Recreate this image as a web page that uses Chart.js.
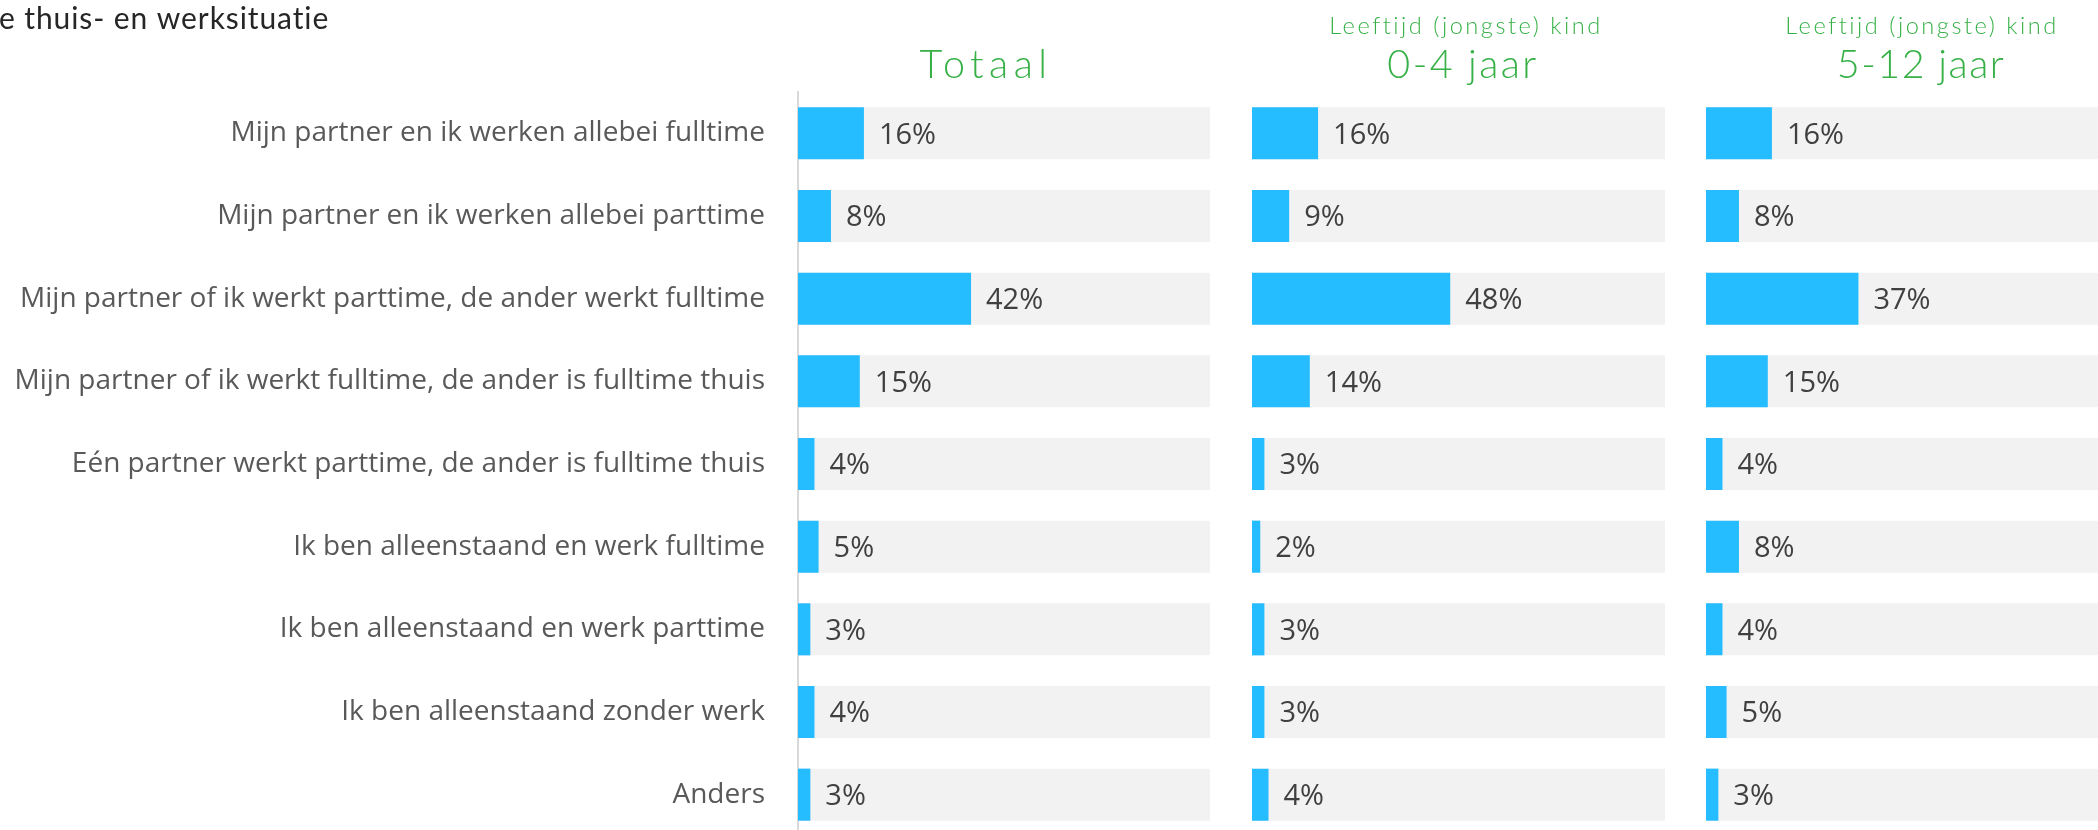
<!DOCTYPE html>
<html><head><meta charset="utf-8">
<script src="https://cdn.jsdelivr.net/npm/chart.js@4.4.0/dist/chart.umd.min.js"></script>
<style>
html,body{margin:0;padding:0;background:#fff;width:2098px;height:830px;overflow:hidden;position:relative;}
.p{position:absolute;top:0;height:840px;}
#w1{left:0;width:1230px}
#w2{left:1230px;width:460px}
#w3{left:1690px;width:430px}
</style></head><body>
<div class="p" id="w1"><canvas id="c1" width="1230" height="840"></canvas></div>
<div class="p" id="w2"><canvas id="c2" width="460" height="840"></canvas></div>
<div class="p" id="w3"><canvas id="c3" width="430" height="840"></canvas></div>
<script>
const categories = [
  'Mijn partner en ik werken allebei fulltime',
  'Mijn partner en ik werken allebei parttime',
  'Mijn partner of ik werkt parttime, de ander werkt fulltime',
  'Mijn partner of ik werkt fulltime, de ander is fulltime thuis',
  'Eén partner werkt parttime, de ander is fulltime thuis',
  'Ik ben alleenstaand en werk fulltime',
  'Ik ben alleenstaand en werk parttime',
  'Ik ben alleenstaand zonder werk',
  'Anders'
];
const totaal   = [16, 8, 42, 15, 4, 5, 3, 4, 3];
const jaar0_4  = [16, 9, 48, 14, 3, 2, 3, 3, 4];
const jaar5_12 = [16, 8, 37, 15, 4, 8, 4, 5, 3];
const track    = [100, 100, 100, 100, 100, 100, 100, 100, 100];
const pageTitle = 'e thuis- en werksituatie';
const panelTitles = ['Totaal', '0-4 jaar', '5-12 jaar'];
const panelSubtitles = ['', 'Leeftijd (jongste) kind', 'Leeftijd (jongste) kind'];

const BLUE = '#25BDFF', TRACK = '#F2F2F2', GREEN = '#37B147';
const LABEL_FONT = '"Open Sans"';

const valueLabels = {
  id: 'valueLabels',
  afterDatasetsDraw(chart, args, o) {
    const ctx = chart.ctx, meta = chart.getDatasetMeta(0);
    const data = chart.data.datasets[0].data;
    ctx.save();
    ctx.font = o.font; ctx.fillStyle = o.color;
    ctx.textAlign = 'left'; ctx.textBaseline = 'middle';
    meta.data.forEach((bar, i) => ctx.fillText(data[i] + '%', bar.x + o.gap, bar.y + o.dy));
    ctx.restore();
  }
};
const headers = {
  id: 'headers',
  afterDraw(chart, args, o) {
    const ctx = chart.ctx;
    ctx.save();
    ctx.textBaseline = 'alphabetic';
    if (o.pageTitle) {
      ctx.fillStyle = '#262626'; ctx.font = o.pageFont; ctx.textAlign = 'left';
      ctx.letterSpacing = o.pageSpacing;
      ctx.fillText(o.pageTitle, o.pageX, o.pageY);
    }
    ctx.textAlign = 'center';
    ctx.fillStyle = o.color;
    if (o.subtitle) {
      ctx.font = o.subFont; ctx.letterSpacing = o.subSpacing;
      ctx.fillText(o.subtitle, o.subX, o.subY);
    }
    ctx.font = o.titleFont; ctx.letterSpacing = o.titleSpacing;
    ctx.fillText(o.title, o.titleX, o.titleY);
    ctx.restore();
  }
};

function makeChart(id, values, idx, padding, yOpts, hdr) {
  return new Chart(document.getElementById(id), {
    type: 'bar',
    data: {
      labels: categories,
      datasets: [
        { data: values, backgroundColor: BLUE, grouped: false, order: 0, barPercentage: 0.63, categoryPercentage: 1 },
        { data: track, backgroundColor: TRACK, grouped: false, order: 1, barPercentage: 0.63, categoryPercentage: 1 }
      ]
    },
    options: {
      indexAxis: 'y', responsive: false, animation: false,
      layout: { padding },
      scales: {
        x: { min: 0, max: 100, display: false },
        y: yOpts
      },
      plugins: {
        legend: { display: false }, tooltip: { enabled: false },
        valueLabels: { font: '29px ' + LABEL_FONT, color: '#404040', gap: 15, dy: 2 },
        headers: Object.assign({ color: GREEN, title: panelTitles[idx], subtitle: panelSubtitles[idx],
          titleFont: '300 39.5px Lato', subFont: '300 23.6px Lato', subSpacing: '2.5px',
          titleY: 78, subY: 34 }, hdr)
      }
    },
    plugins: [valueLabels, headers]
  });
}

makeChart('c1', totaal, 0, { left: 0, right: 20, top: 92, bottom: 4 }, {
  display: true,
  grid: { display: false, drawTicks: false },
  border: { display: true, color: '#D9D9D9', width: 2 },
  ticks: { padding: 33, color: '#595959', font: { family: LABEL_FONT, size: 28 } },
  afterFit(s) { s.width = 798; s.paddingTop = 0; s.paddingBottom = 0; }
}, { titleX: 986, titleSpacing: '5.5px', pageTitle, pageFont: '30px Lato', pageSpacing: '0.9px', pageX: -1, pageY: 29 });

makeChart('c2', jaar0_4, 1, { left: 22, right: 25, top: 92, bottom: 4 }, { display: false },
  { titleX: 233, subX: 236, titleSpacing: '2.4px' });
makeChart('c3', jaar5_12, 2, { left: 16, right: 2, top: 92, bottom: 4 }, { display: false },
  { titleX: 231, subX: 232, titleSpacing: '1.5px' });
</script>
</body></html>
